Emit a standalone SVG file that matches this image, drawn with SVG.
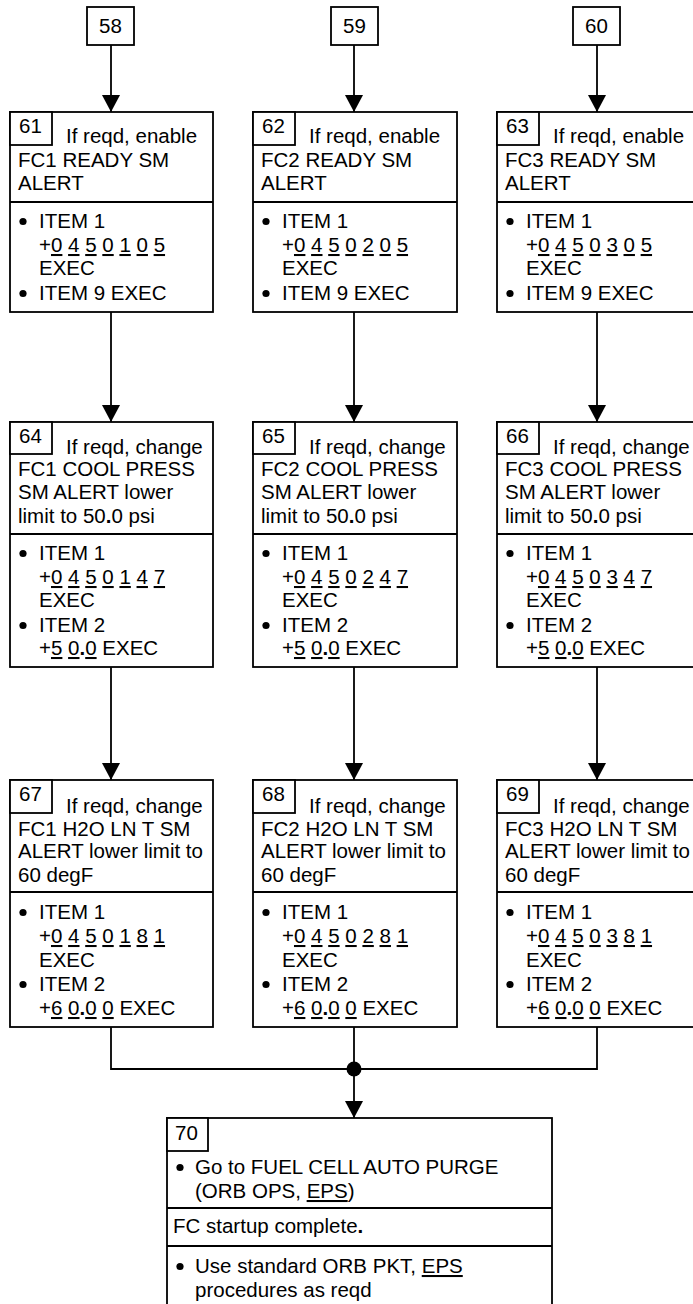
<svg xmlns="http://www.w3.org/2000/svg" width="693" height="1304" viewBox="0 0 693 1304">
<style>
.box{fill:#fff;stroke:#000;stroke-width:1.8}
.ln{fill:none;stroke:#000;stroke-width:1.8}
.t{font-family:"Liberation Sans",Arial,Helvetica,sans-serif;font-size:20.5px;fill:#000}
.c{text-anchor:middle}
.u{text-decoration:underline}
.b{font-weight:bold}
.dot{fill:#000}
</style>
<defs>
<marker id="arr" markerUnits="userSpaceOnUse" markerWidth="17" markerHeight="18" viewBox="0 0 17 18" refX="17" refY="9" orient="auto">
<path d="M0,0 L17,9 L0,18 Z" fill="#000"/>
</marker>
</defs>
<rect width="693" height="1304" fill="#fff"/>

<g id="connectors">
<line class="ln" x1="111" y1="45" x2="111" y2="112" marker-end="url(#arr)"/>
<line class="ln" x1="354" y1="45" x2="354" y2="112" marker-end="url(#arr)"/>
<line class="ln" x1="597" y1="45" x2="597" y2="112" marker-end="url(#arr)"/>
<line class="ln" x1="111" y1="312" x2="111" y2="422" marker-end="url(#arr)"/>
<line class="ln" x1="354" y1="312" x2="354" y2="422" marker-end="url(#arr)"/>
<line class="ln" x1="597" y1="312" x2="597" y2="422" marker-end="url(#arr)"/>
<line class="ln" x1="111" y1="667" x2="111" y2="780" marker-end="url(#arr)"/>
<line class="ln" x1="354" y1="667" x2="354" y2="780" marker-end="url(#arr)"/>
<line class="ln" x1="597" y1="667" x2="597" y2="780" marker-end="url(#arr)"/>
<polyline class="ln" points="111,1027 111,1069 597,1069 597,1027"/>
<line class="ln" x1="354" y1="1027" x2="354" y2="1118" marker-end="url(#arr)"/>
<circle class="dot" cx="354" cy="1069" r="7.5"/>
</g>

<g id="n58"><rect class="box" x="87" y="7" width="47" height="38"/><text class="t c" x="110.5" y="33">58</text></g>
<g id="n59"><rect class="box" x="331" y="7" width="47" height="38"/><text class="t c" x="354.5" y="33">59</text></g>
<g id="n60"><rect class="box" x="573" y="7" width="47" height="38"/><text class="t c" x="596.5" y="33">60</text></g>

<g id="n61">
<rect class="box" x="10" y="112" width="203" height="200"/>
<line class="ln" x1="10" y1="202" x2="213" y2="202"/>
<rect class="box" x="10" y="112" width="42" height="33"/>
<text class="t" x="19" y="133">61</text>
<text class="t" x="66" y="143">If reqd, enable</text>
<text class="t" x="18" y="167">FC1 READY SM</text>
<text class="t" x="18" y="190">ALERT</text>
<circle class="dot" cx="23" cy="221.5" r="3.6"/>
<text class="t" x="39" y="228">ITEM 1</text>
<text class="t" x="39" y="252">+<tspan class="u">0</tspan> <tspan class="u">4</tspan> <tspan class="u">5</tspan> <tspan class="u">0</tspan> <tspan class="u">1</tspan> <tspan class="u">0</tspan> <tspan class="u">5</tspan></text>
<text class="t" x="39" y="275">EXEC</text>
<circle class="dot" cx="23" cy="293.5" r="3.6"/>
<text class="t" x="39" y="300">ITEM 9 EXEC</text>
</g>

<g id="n62">
<rect class="box" x="253" y="112" width="204" height="200"/>
<line class="ln" x1="253" y1="202" x2="457" y2="202"/>
<rect class="box" x="253" y="112" width="42" height="33"/>
<text class="t" x="262" y="133">62</text>
<text class="t" x="309" y="143">If reqd, enable</text>
<text class="t" x="261" y="167">FC2 READY SM</text>
<text class="t" x="261" y="190">ALERT</text>
<circle class="dot" cx="266" cy="221.5" r="3.6"/>
<text class="t" x="282" y="228">ITEM 1</text>
<text class="t" x="282" y="252">+<tspan class="u">0</tspan> <tspan class="u">4</tspan> <tspan class="u">5</tspan> <tspan class="u">0</tspan> <tspan class="u">2</tspan> <tspan class="u">0</tspan> <tspan class="u">5</tspan></text>
<text class="t" x="282" y="275">EXEC</text>
<circle class="dot" cx="266" cy="293.5" r="3.6"/>
<text class="t" x="282" y="300">ITEM 9 EXEC</text>
</g>

<g id="n63">
<rect class="box" x="497" y="112" width="204" height="200"/>
<line class="ln" x1="497" y1="202" x2="701" y2="202"/>
<rect class="box" x="497" y="112" width="42" height="33"/>
<text class="t" x="506" y="133">63</text>
<text class="t" x="553" y="143">If reqd, enable</text>
<text class="t" x="505" y="167">FC3 READY SM</text>
<text class="t" x="505" y="190">ALERT</text>
<circle class="dot" cx="510" cy="221.5" r="3.6"/>
<text class="t" x="526" y="228">ITEM 1</text>
<text class="t" x="526" y="252">+<tspan class="u">0</tspan> <tspan class="u">4</tspan> <tspan class="u">5</tspan> <tspan class="u">0</tspan> <tspan class="u">3</tspan> <tspan class="u">0</tspan> <tspan class="u">5</tspan></text>
<text class="t" x="526" y="275">EXEC</text>
<circle class="dot" cx="510" cy="293.5" r="3.6"/>
<text class="t" x="526" y="300">ITEM 9 EXEC</text>
</g>

<g id="n64">
<rect class="box" x="10" y="422" width="203" height="245"/>
<line class="ln" x1="10" y1="534" x2="213" y2="534"/>
<rect class="box" x="10" y="422" width="42" height="32"/>
<text class="t" x="19" y="443">64</text>
<text class="t" x="66" y="454">If reqd, change</text>
<text class="t" x="18" y="476">FC1 COOL PRESS</text>
<text class="t" x="18" y="499">SM ALERT lower</text>
<text class="t" x="18" y="523">limit to 50<tspan class="b">.</tspan>0 psi</text>
<circle class="dot" cx="23" cy="553.5" r="3.6"/>
<text class="t" x="39" y="560">ITEM 1</text>
<text class="t" x="39" y="584">+<tspan class="u">0</tspan> <tspan class="u">4</tspan> <tspan class="u">5</tspan> <tspan class="u">0</tspan> <tspan class="u">1</tspan> <tspan class="u">4</tspan> <tspan class="u">7</tspan></text>
<text class="t" x="39" y="607">EXEC</text>
<circle class="dot" cx="23" cy="625.5" r="3.6"/>
<text class="t" x="39" y="632">ITEM 2</text>
<text class="t" x="39" y="655">+<tspan class="u">5</tspan> <tspan class="u">0</tspan><tspan class="b">.</tspan><tspan class="u">0</tspan> EXEC</text>
</g>

<g id="n65">
<rect class="box" x="253" y="422" width="204" height="245"/>
<line class="ln" x1="253" y1="534" x2="457" y2="534"/>
<rect class="box" x="253" y="422" width="42" height="32"/>
<text class="t" x="262" y="443">65</text>
<text class="t" x="309" y="454">If reqd, change</text>
<text class="t" x="261" y="476">FC2 COOL PRESS</text>
<text class="t" x="261" y="499">SM ALERT lower</text>
<text class="t" x="261" y="523">limit to 50<tspan class="b">.</tspan>0 psi</text>
<circle class="dot" cx="266" cy="553.5" r="3.6"/>
<text class="t" x="282" y="560">ITEM 1</text>
<text class="t" x="282" y="584">+<tspan class="u">0</tspan> <tspan class="u">4</tspan> <tspan class="u">5</tspan> <tspan class="u">0</tspan> <tspan class="u">2</tspan> <tspan class="u">4</tspan> <tspan class="u">7</tspan></text>
<text class="t" x="282" y="607">EXEC</text>
<circle class="dot" cx="266" cy="625.5" r="3.6"/>
<text class="t" x="282" y="632">ITEM 2</text>
<text class="t" x="282" y="655">+<tspan class="u">5</tspan> <tspan class="u">0</tspan><tspan class="b">.</tspan><tspan class="u">0</tspan> EXEC</text>
</g>

<g id="n66">
<rect class="box" x="497" y="422" width="204" height="245"/>
<line class="ln" x1="497" y1="534" x2="701" y2="534"/>
<rect class="box" x="497" y="422" width="42" height="32"/>
<text class="t" x="506" y="443">66</text>
<text class="t" x="553" y="454">If reqd, change</text>
<text class="t" x="505" y="476">FC3 COOL PRESS</text>
<text class="t" x="505" y="499">SM ALERT lower</text>
<text class="t" x="505" y="523">limit to 50<tspan class="b">.</tspan>0 psi</text>
<circle class="dot" cx="510" cy="553.5" r="3.6"/>
<text class="t" x="526" y="560">ITEM 1</text>
<text class="t" x="526" y="584">+<tspan class="u">0</tspan> <tspan class="u">4</tspan> <tspan class="u">5</tspan> <tspan class="u">0</tspan> <tspan class="u">3</tspan> <tspan class="u">4</tspan> <tspan class="u">7</tspan></text>
<text class="t" x="526" y="607">EXEC</text>
<circle class="dot" cx="510" cy="625.5" r="3.6"/>
<text class="t" x="526" y="632">ITEM 2</text>
<text class="t" x="526" y="655">+<tspan class="u">5</tspan> <tspan class="u">0</tspan><tspan class="b">.</tspan><tspan class="u">0</tspan> EXEC</text>
</g>

<g id="n67">
<rect class="box" x="10" y="780" width="203" height="247"/>
<line class="ln" x1="10" y1="892" x2="213" y2="892"/>
<rect class="box" x="10" y="780" width="42" height="33"/>
<text class="t" x="19" y="801">67</text>
<text class="t" x="66" y="813">If reqd, change</text>
<text class="t" x="18" y="836">FC1 H2O LN T SM</text>
<text class="t" x="18" y="858">ALERT lower limit to</text>
<text class="t" x="18" y="882">60 degF</text>
<circle class="dot" cx="23" cy="912.5" r="3.6"/>
<text class="t" x="39" y="919">ITEM 1</text>
<text class="t" x="39" y="943">+<tspan class="u">0</tspan> <tspan class="u">4</tspan> <tspan class="u">5</tspan> <tspan class="u">0</tspan> <tspan class="u">1</tspan> <tspan class="u">8</tspan> <tspan class="u">1</tspan></text>
<text class="t" x="39" y="967">EXEC</text>
<circle class="dot" cx="23" cy="984.5" r="3.6"/>
<text class="t" x="39" y="991">ITEM 2</text>
<text class="t" x="39" y="1015">+<tspan class="u">6</tspan> <tspan class="u">0</tspan><tspan class="b">.</tspan><tspan class="u">0</tspan> <tspan class="u">0</tspan> EXEC</text>
</g>

<g id="n68">
<rect class="box" x="253" y="780" width="204" height="247"/>
<line class="ln" x1="253" y1="892" x2="457" y2="892"/>
<rect class="box" x="253" y="780" width="42" height="33"/>
<text class="t" x="262" y="801">68</text>
<text class="t" x="309" y="813">If reqd, change</text>
<text class="t" x="261" y="836">FC2 H2O LN T SM</text>
<text class="t" x="261" y="858">ALERT lower limit to</text>
<text class="t" x="261" y="882">60 degF</text>
<circle class="dot" cx="266" cy="912.5" r="3.6"/>
<text class="t" x="282" y="919">ITEM 1</text>
<text class="t" x="282" y="943">+<tspan class="u">0</tspan> <tspan class="u">4</tspan> <tspan class="u">5</tspan> <tspan class="u">0</tspan> <tspan class="u">2</tspan> <tspan class="u">8</tspan> <tspan class="u">1</tspan></text>
<text class="t" x="282" y="967">EXEC</text>
<circle class="dot" cx="266" cy="984.5" r="3.6"/>
<text class="t" x="282" y="991">ITEM 2</text>
<text class="t" x="282" y="1015">+<tspan class="u">6</tspan> <tspan class="u">0</tspan><tspan class="b">.</tspan><tspan class="u">0</tspan> <tspan class="u">0</tspan> EXEC</text>
</g>

<g id="n69">
<rect class="box" x="497" y="780" width="204" height="247"/>
<line class="ln" x1="497" y1="892" x2="701" y2="892"/>
<rect class="box" x="497" y="780" width="42" height="33"/>
<text class="t" x="506" y="801">69</text>
<text class="t" x="553" y="813">If reqd, change</text>
<text class="t" x="505" y="836">FC3 H2O LN T SM</text>
<text class="t" x="505" y="858">ALERT lower limit to</text>
<text class="t" x="505" y="882">60 degF</text>
<circle class="dot" cx="510" cy="912.5" r="3.6"/>
<text class="t" x="526" y="919">ITEM 1</text>
<text class="t" x="526" y="943">+<tspan class="u">0</tspan> <tspan class="u">4</tspan> <tspan class="u">5</tspan> <tspan class="u">0</tspan> <tspan class="u">3</tspan> <tspan class="u">8</tspan> <tspan class="u">1</tspan></text>
<text class="t" x="526" y="967">EXEC</text>
<circle class="dot" cx="510" cy="984.5" r="3.6"/>
<text class="t" x="526" y="991">ITEM 2</text>
<text class="t" x="526" y="1015">+<tspan class="u">6</tspan> <tspan class="u">0</tspan><tspan class="b">.</tspan><tspan class="u">0</tspan> <tspan class="u">0</tspan> EXEC</text>
</g>

<g id="n70">
<rect class="box" x="167" y="1118" width="385" height="200"/>
<rect class="box" x="167" y="1118" width="41" height="33"/>
<line class="ln" x1="167" y1="1208" x2="552" y2="1208"/>
<line class="ln" x1="167" y1="1246" x2="552" y2="1246"/>
<text class="t" x="175" y="1140">70</text>
<circle class="dot" cx="180" cy="1167.5" r="3.6"/>
<text class="t" x="195" y="1174">Go to FUEL CELL AUTO PURGE</text>
<text class="t" x="195" y="1198">(ORB OPS, <tspan class="u">EPS</tspan>)</text>
<text class="t" x="173" y="1233">FC startup complete<tspan class="b">.</tspan></text>
<circle class="dot" cx="180" cy="1266.5" r="3.6"/>
<text class="t" x="195" y="1273">Use standard ORB PKT, <tspan class="u">EPS</tspan></text>
<text class="t" x="195" y="1297">procedures as reqd</text>
</g>
</svg>
